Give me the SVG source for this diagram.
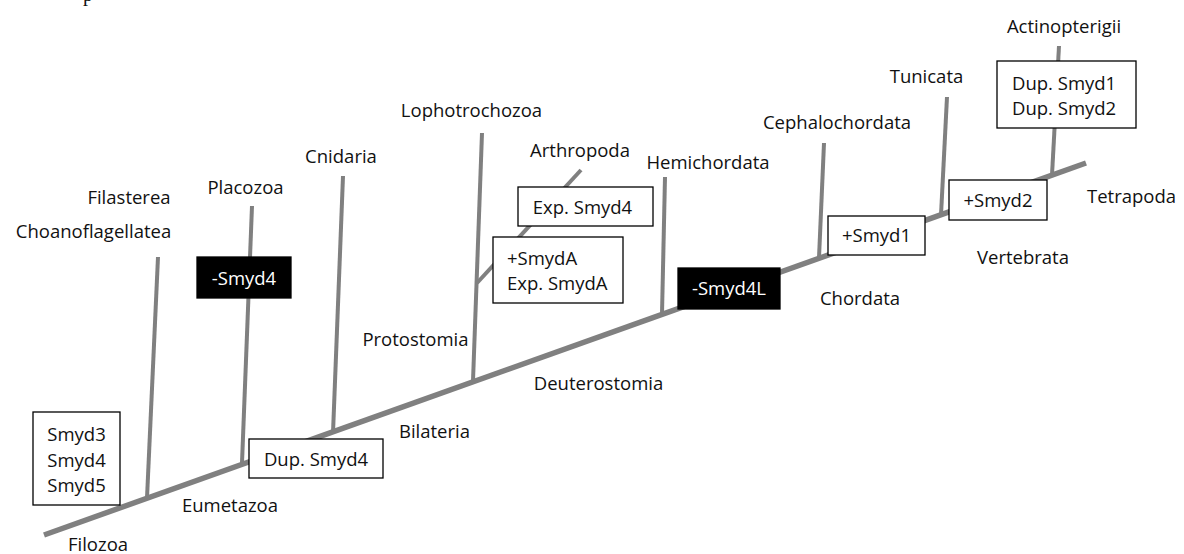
<svg xmlns="http://www.w3.org/2000/svg" width="1184" height="554" viewBox="0 0 1184 554">
<style>
text{font-family:"Open Sans","Liberation Sans",sans-serif;font-size:18.5px;fill:#111}
.c{text-anchor:middle}
.br{stroke:#808080;stroke-width:4;fill:none;stroke-linecap:butt}
.tr{stroke:#808080;stroke-width:5.5;fill:none}
.wb{fill:#fff;stroke:#000;stroke-width:1.3}
.bb{fill:#000;stroke:#000;stroke-width:1.3}
.wt{fill:#fff}
</style>
<rect width="1184" height="554" fill="#fff"/>
<text x="83" y="0.5" style="font-family:'Liberation Serif',serif;font-size:20px">p</text>
<g id="connectors">
<line class="tr" x1="44" y1="535" x2="1086" y2="163"/>
<line class="br" x1="158" y1="257" x2="147" y2="498"/>
<line class="br" x1="252" y1="206" x2="242" y2="463"/>
<line class="br" x1="343" y1="176" x2="333" y2="433"/>
<line class="br" x1="482" y1="133" x2="473" y2="381"/>
<line class="br" x1="581" y1="170" x2="477" y2="283"/>
<line class="br" x1="665" y1="177" x2="662" y2="314"/>
<line class="br" x1="824" y1="143" x2="819" y2="258"/>
<line class="br" x1="947" y1="97" x2="941" y2="215"/>
<line class="br" x1="1059" y1="46" x2="1052" y2="175"/>
</g>
<g id="filasterea"><text class="c" x="129" y="204">Filasterea</text></g>
<g id="choanoflagellatea"><text class="c" x="93.5" y="238">Choanoflagellatea</text></g>
<g id="placozoa"><text class="c" x="245.5" y="194">Placozoa</text></g>
<g id="cnidaria"><text class="c" x="341" y="163">Cnidaria</text></g>
<g id="lophotrochozoa"><text class="c" x="471.5" y="117">Lophotrochozoa</text></g>
<g id="arthropoda"><text class="c" x="580" y="157">Arthropoda</text></g>
<g id="hemichordata"><text class="c" x="708" y="169">Hemichordata</text></g>
<g id="cephalochordata"><text class="c" x="837" y="129">Cephalochordata</text></g>
<g id="tunicata"><text class="c" x="926.5" y="83">Tunicata</text></g>
<g id="actinopterigii"><text class="c" x="1064" y="33">Actinopterigii</text></g>
<g id="tetrapoda"><text class="c" x="1131.5" y="203">Tetrapoda</text></g>
<g id="vertebrata"><text class="c" x="1023" y="264">Vertebrata</text></g>
<g id="chordata"><text class="c" x="860" y="305">Chordata</text></g>
<g id="deuterostomia"><text class="c" x="598.5" y="390">Deuterostomia</text></g>
<g id="protostomia"><text class="c" x="415.5" y="346">Protostomia</text></g>
<g id="bilateria"><text class="c" x="434.5" y="438">Bilateria</text></g>
<g id="eumetazoa"><text class="c" x="230" y="512">Eumetazoa</text></g>
<g id="filozoa"><text class="c" x="98" y="551">Filozoa</text></g>
<g id="box-smyd345"><rect class="wb" x="33" y="412" width="87" height="93"/>
<text class="c" x="76.5" y="441">Smyd3</text><text class="c" x="76.5" y="467">Smyd4</text><text class="c" x="76.5" y="492">Smyd5</text></g>
<g id="box-minus-smyd4"><rect class="bb" x="197" y="257" width="94" height="41"/><text class="c wt" x="244" y="284.5">-Smyd4</text></g>
<g id="box-dup-smyd4"><rect class="wb" x="249" y="439" width="134" height="39"/><text class="c" x="316" y="465.5">Dup. Smyd4</text></g>
<g id="box-exp-smyd4"><rect class="wb" x="518" y="187" width="135" height="39"/><text class="c" x="582.5" y="213.5">Exp. Smyd4</text></g>
<g id="box-smyda"><rect class="wb" x="493" y="237" width="130" height="66"/><text x="507" y="264.5">+SmydA</text><text x="507" y="289.5">Exp. SmydA</text></g>
<g id="box-minus-smyd4l"><rect class="bb" x="678" y="268" width="102" height="41"/><text class="c wt" x="729" y="295">-Smyd4L</text></g>
<g id="box-smyd1"><rect class="wb" x="828" y="216" width="97" height="39"/><text class="c" x="876.5" y="242">+Smyd1</text></g>
<g id="box-smyd2"><rect class="wb" x="949" y="180" width="98" height="40"/><text class="c" x="998" y="206.5">+Smyd2</text></g>
<g id="box-dup-smyd12"><rect class="wb" x="997" y="61" width="139" height="67"/><text x="1012" y="89.5">Dup. Smyd1</text><text x="1012" y="114.5">Dup. Smyd2</text></g>
</svg>
